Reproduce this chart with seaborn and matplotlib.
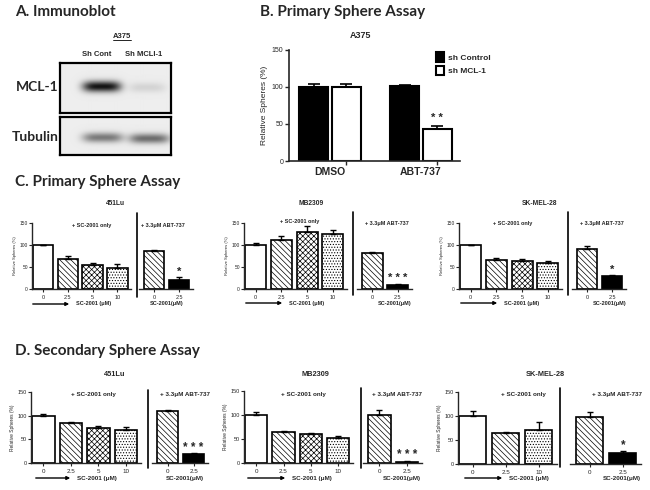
import numpy as np
import pandas as pd
import matplotlib
matplotlib.use("Agg")
import matplotlib.pyplot as plt
from matplotlib.lines import Line2D
from matplotlib.patches import FancyArrowPatch
import seaborn as sns

# ---- data ----
b_treat = ["DMSO", "ABT-737"]
b_groups = ["sh Control", "sh MCL-1"]
b_ctrl = [100, 101]
b_ctrl_err = [3.5, 1.5]
b_mcl = [100, 43]
b_mcl_err = [4, 4.5]

sc_doses = ["0", "2.5", "5", "10"]
sc_doses_3 = ["0", "2.5", "10"]
abt_doses = ["0", "2.5"]

c_451 = [100, 68, 55, 48]
c_451_err = [1, 8, 5, 9]
c_451_abt = [87, 20]
c_451_abt_err = [2, 8]

c_mb = [100, 112, 129, 124]
c_mb_err = [5, 8, 15, 9]
c_mb_abt = [81, 9]
c_mb_abt_err = [3, 1.5]

c_sk = [100, 66, 63, 58]
c_sk_err = [1, 5, 6, 5]
c_sk_abt = [92, 30]
c_sk_abt_err = [6, 2]

d_451 = [100, 85, 75, 70]
d_451_err = [3.5, 1.5, 3, 7]
d_451_abt = [110, 18]
d_451_abt_err = [3, 3]

d_mb = [100, 64, 61, 53]
d_mb_err = [6, 3, 2, 2.5]
d_mb_abt = [100, 3]
d_mb_abt_err = [9.5, 1.5]

d_sk = [100, 64, 70]
d_sk_err = [11, 2, 17]
d_sk_abt = [98, 23]
d_sk_abt_err = [10, 3.5]

W, H = 650, 490


def box(x0, y0, x1, y1):
    return [x0 / W, 1 - y1 / H, (x1 - x0) / W, (y1 - y0) / H]


def fx(x):
    return x / W


def fy(y):
    return 1 - y / H


sns.set_style("ticks")
plt.rcParams['font.family'] = ['Liberation Sans', 'DejaVu Sans']
plt.rcParams['hatch.linewidth'] = 0.5
TITLE = ['Lato', 'DejaVu Sans']

fig = plt.figure(figsize=(6.5, 4.9), dpi=100)
fig.patch.set_facecolor("white")

# ---- A. immunoblot ----
fig.text(fx(15), fy(12), "A. Immunoblot", family=TITLE, weight="bold", fontsize=11, va="center")
fig.text(fx(122), fy(36), "A375", weight="bold", fontsize=5.5, ha="center", va="center")
fig.add_artist(Line2D([fx(113), fx(131)], [fy(40.5), fy(40.5)], color="black", lw=0.6))
fig.text(fx(97), fy(55), "Sh Cont", weight="bold", fontsize=5.5, ha="center", va="center")
fig.text(fx(144), fy(55), "Sh MCLI-1", weight="bold", fontsize=5.5, ha="center", va="center")
fig.text(fx(37), fy(87), "MCL-1", family=TITLE, weight="bold", fontsize=10, ha="center", va="center")
fig.text(fx(35), fy(137), "Tubulin", family=TITLE, weight="bold", fontsize=10, ha="center", va="center")


def blot(rect, bands):
    ax = fig.add_axes(rect)
    w = int(rect[2] * W)
    h = int(rect[3] * H)
    yy, xx = np.mgrid[0:h, 0:w]
    img = np.full((h, w), 0.93)
    for cx, cy, sx, sy, amp in bands:
        img -= amp * np.exp(-((xx - cx) / sx) ** 4 - ((yy - cy) / sy) ** 2)
    ax.imshow(img, cmap="gray", vmin=0, vmax=1, aspect="auto", interpolation="bilinear")
    ax.set_xticks([])
    ax.set_yticks([])
    for s in ax.spines.values():
        s.set_linewidth(1.6)
        s.set_color("black")


blot(box(60, 63, 171, 113), [(41, 23, 19, 5.5, 0.85), (86, 24, 18, 5, 0.1)])
blot(box(60, 117, 171, 155), [(42, 20, 20, 5, 0.45), (88, 21, 20, 5, 0.5)])

# ---- B. primary sphere assay A375 ----
fig.text(fx(260), fy(12), "B. Primary Sphere Assay", family=TITLE, weight="bold", fontsize=11, va="center")
fig.text(fx(360), fy(35), "A375", weight="bold", fontsize=6.5, ha="center", va="center")

df_b = pd.DataFrame({
    "treat": b_treat * 2,
    "group": [b_groups[0]] * 2 + [b_groups[1]] * 2,
    "val": b_ctrl + b_mcl,
})
axb = fig.add_axes(box(289, 50, 460, 161))
sns.barplot(data=df_b, x="treat", y="val", hue="group", palette=["black", "white"],
            edgecolor="black", linewidth=1.5, width=0.72, gap=0.12, saturation=1, ax=axb)
for cont, errs in zip(axb.containers, [b_ctrl_err, b_mcl_err]):
    xs = [p.get_x() + p.get_width() / 2 for p in cont]
    hs = [p.get_height() for p in cont]
    axb.errorbar(xs, hs, yerr=[np.zeros(len(errs)), errs], fmt="none", ecolor="black",
                 elinewidth=1.2, capsize=4, capthick=1.2, zorder=1)
    axb.set_xticks(xs, minor=True)
top = b_mcl[1] + b_mcl_err[1]
xs_m = [p.get_x() + p.get_width() / 2 for p in axb.containers[1]]
axb.text(xs_m[1], top + 10, "* *", ha="center", va="center", fontsize=8, weight="bold")
axb.set_ylim(0, 150)
axb.set_xlim(-0.45, 1.43)
axb.set_yticks([0, 50, 100, 150])
axb.tick_params(axis="y", labelsize=5, length=3, width=1, pad=1)
axb.tick_params(axis="x", which="major", length=0, labelsize=7.5, pad=4)
axb.tick_params(axis="x", which="minor", length=3, width=1)
for t in axb.get_xticklabels():
    t.set_fontweight("bold")
axb.set_xlabel("")
axb.set_ylabel("Relative Spheres (%)", fontsize=6, labelpad=3)
for s in ["left", "bottom"]:
    axb.spines[s].set_linewidth(1.2)
sns.despine(ax=axb)
handles, labels = axb.get_legend_handles_labels()
axb.legend(handles, labels, loc="upper left", bbox_to_anchor=(fx(428), fy(45)),
           bbox_transform=fig.transFigure, frameon=False, fontsize=6,
           handlelength=1.0, handleheight=1.3, handletextpad=0.5, labelspacing=0.5,
           prop={"weight": "bold", "size": 6})

# ---- C / D dose panels ----
HATCH = {"0": "", "2.5": "\\\\\\\\\\\\", "5": "xxxxxx", "10": "......"}


def dose_panel(spec, doses, vals, errs, abt_vals, abt_errs, stars, fs):
    yt, yb = spec["y"]
    lx0, lx1 = spec["left"]
    rx0, rx1 = spec["right"]
    axl = fig.add_axes(box(lx0, yt, lx1, yb))
    sns.barplot(x=doses, y=vals, color="white", edgecolor="black", linewidth=1.2,
                width=0.82, saturation=1, ax=axl)
    for p, d in zip(axl.patches, doses):
        p.set_hatch(HATCH[d])
    axl.errorbar(range(len(vals)), vals, yerr=[np.zeros(len(errs)), errs], fmt="none",
                 ecolor="black", elinewidth=1, capsize=2.5, capthick=1, zorder=1)
    axl.set_ylim(0, 150)
    axl.set_xlim(-0.45, len(vals) - 0.45)
    axl.set_yticks([0, 50, 100, 150])
    axl.tick_params(axis="y", labelsize=fs - 0.5, length=2, width=0.8, pad=1)
    axl.tick_params(axis="x", labelsize=fs, length=2, width=0.8, pad=2)
    axl.set_ylabel("Relative Spheres (%)", fontsize=fs - 1, labelpad=2)
    sns.despine(ax=axl)
    for s in ["left", "bottom"]:
        axl.spines[s].set_linewidth(1)

    axr = fig.add_axes(box(rx0, yt, rx1, yb))
    sns.barplot(x=abt_doses, y=abt_vals, hue=abt_doses, palette=["white", "black"],
                edgecolor="black", linewidth=1.2, width=0.82, saturation=1, legend=False, ax=axr)
    axr.patches[0].set_hatch(HATCH["2.5"])
    axr.errorbar(range(2), abt_vals, yerr=[np.zeros(2), abt_errs], fmt="none",
                 ecolor="black", elinewidth=1, capsize=2.5, capthick=1, zorder=1)
    axr.text(1, abt_vals[1] + abt_errs[1] + spec["star_off"], stars, ha="center", va="center",
             fontsize=fs + 4, weight="bold")
    axr.set_ylim(0, 150)
    axr.set_xlim(-0.6, 1.55)
    axr.set_yticks([])
    axr.tick_params(axis="x", labelsize=fs, length=2, width=0.8, pad=2)
    sns.despine(ax=axr, left=True)
    axr.spines["bottom"].set_linewidth(1)

    # divider, labels, arrow
    dx, dy0, dy1 = spec["div"]
    fig.add_artist(Line2D([fx(dx), fx(dx)], [fy(dy0), fy(dy1)], color="black", lw=1.2))
    tx, ty = spec["title"]
    fig.text(fx(tx), fy(ty), spec["name"], ha="center", va="center", fontsize=fs + 0.8, weight="bold")
    (ax1, ay1), (ax2, ay2) = spec["notes"]
    fig.text(fx(ax1), fy(ay1), "+ SC-2001 only", ha="center", va="center", fontsize=fs, weight="bold")
    fig.text(fx(ax2), fy(ay2), "+ 3.3\u03bcM ABT-737", ha="center", va="center", fontsize=fs, weight="bold")
    a0, a1, ay = spec["arrow"]
    fig.add_artist(FancyArrowPatch((fx(a0), fy(ay)), (fx(a1), fy(ay)), transform=fig.transFigure,
                                   arrowstyle="-|>", mutation_scale=5, lw=1, color="black"))
    fig.text(fx(a1 + 4), fy(ay), "SC-2001 (\u03bcM)", ha="left", va="center", fontsize=fs, weight="bold")
    fig.text(fx(spec["rlab"]), fy(ay), "SC-2001(\u03bcM)", ha="center", va="center", fontsize=fs, weight="bold")


fig.text(fx(15), fy(182), "C. Primary Sphere Assay", family=TITLE, weight="bold", fontsize=11, va="center")
fig.text(fx(15), fy(351), "D. Secondary Sphere Assay", family=TITLE, weight="bold", fontsize=11, va="center")

c_specs = [
    dict(name="451Lu", y=(223, 289), left=(32, 131), right=(139, 193), div=(137, 213, 297),
         title=(115, 203), notes=((92, 225), (163, 225)), arrow=(30, 72, 304), rlab=167, star_off=12),
    dict(name="MB2309", y=(223, 289), left=(244, 347), right=(357, 412), div=(353, 212, 295),
         title=(311, 203), notes=((300, 222), (387, 223)), arrow=(243, 285, 303), rlab=395, star_off=14),
    dict(name="SK-MEL-28", y=(223, 289), left=(459, 562), right=(572, 626), div=(568, 212, 295),
         title=(540, 203), notes=((513, 223), (602, 223)), arrow=(458, 500, 303), rlab=610, star_off=12),
]
d_specs = [
    dict(name="451Lu", y=(392, 463), left=(31, 141), right=(152, 208), div=(148, 390, 468),
         title=(115, 375), notes=((93, 394), (185, 394)), arrow=(33, 73, 478), rlab=185, star_off=10),
    dict(name="MB2309", y=(391, 463), left=(244, 353), right=(363, 422), div=(361, 388, 468),
         title=(315, 375), notes=((303, 394), (397, 394)), arrow=(245, 288, 478), rlab=402, star_off=12),
    dict(name="SK-MEL-28", y=(392, 464), left=(458, 557), right=(570, 641), div=(560, 388, 467),
         title=(545, 375), notes=((523, 394), (617, 394)), arrow=(462, 505, 478), rlab=622, star_off=12),
]

dose_panel(c_specs[0], sc_doses, c_451, c_451_err, c_451_abt, c_451_abt_err, "*", 4)
dose_panel(c_specs[1], sc_doses, c_mb, c_mb_err, c_mb_abt, c_mb_abt_err, "* * *", 4)
dose_panel(c_specs[2], sc_doses, c_sk, c_sk_err, c_sk_abt, c_sk_abt_err, "*", 4)
dose_panel(d_specs[0], sc_doses, d_451, d_451_err, d_451_abt, d_451_abt_err, "* * *", 4.5)
dose_panel(d_specs[1], sc_doses, d_mb, d_mb_err, d_mb_abt, d_mb_abt_err, "* * *", 4.5)
dose_panel(d_specs[2], sc_doses_3, d_sk, d_sk_err, d_sk_abt, d_sk_abt_err, "*", 4.5)

fig.savefig("out.png", dpi=100, facecolor="white")
